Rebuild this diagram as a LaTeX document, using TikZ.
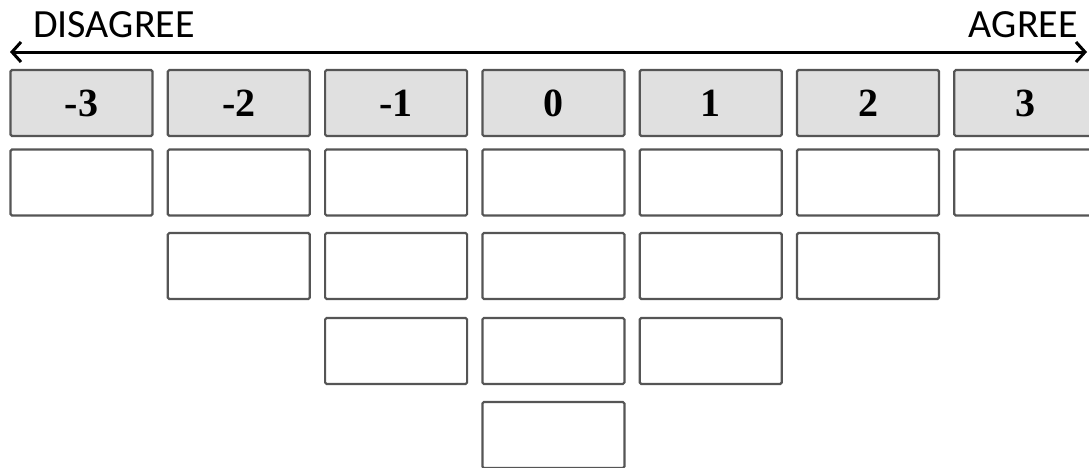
\documentclass[tikz,border=0pt]{standalone}
\usepackage{fontspec}
\newfontfamily\labelfont{Carlito}
\newfontfamily\digitfont{Liberation Serif}
\usetikzlibrary{arrows.meta}
\definecolor{boxline}{HTML}{555555}
\definecolor{headfill}{HTML}{E0E0E0}
\tikzset{
  cell/.style={draw=boxline, line width=2.2pt, rounded corners=1.5pt, minimum width=142pt, minimum height=66pt, inner sep=0pt, fill=white},
  headcell/.style={cell, fill=headfill, font=\digitfont\bfseries\fontsize{40}{40}\selectfont},
  endlabel/.style={font=\labelfont\fontsize{40}{40}\selectfont, inner sep=0pt},
  scale arrow/.style={line width=3pt, {Straight Barb[length=9pt,width=20pt,line width=3pt]}-{Straight Barb[length=9pt,width=20pt,line width=3pt]}}
}
\begin{document}
\begin{tikzpicture}[x=1pt,y=-1pt]
\useasboundingbox (0,0) rectangle (1089,467);
\clip (0,0) rectangle (1089,467);
% end labels and arrow
\node[endlabel, anchor=base west] (dis) at (33,37) {DISAGREE};
\node[endlabel, anchor=base east] (agr) at (1078,37) {AGREE};
\coordinate (arrL) at (10,52);
\coordinate (arrR) at (1087,52);
\draw[scale arrow] (arrL) -- (arrR);
% header row
\foreach \i/\lab in {0/-3,1/-2,2/-1,3/0,4/1,5/2,6/3}{
  \node[headcell] (h\i) at ({81.5+157.3*\i},103) {\raisebox{-4pt}{\lab}};
}
% row 1
\foreach \i in {0,...,6}{
  \node[cell] (ra\i) at ({81.5+157.3*\i},182.5) {};
}
% row 2
\foreach \i in {1,...,5}{
  \node[cell] (rb\i) at ({81.5+157.3*\i},266) {};
}
% row 3
\foreach \i in {2,...,4}{
  \node[cell] (rc\i) at ({81.5+157.3*\i},351) {};
}
% row 4
\node[cell] (rd3) at ({81.5+157.3*3},435) {};
\end{tikzpicture}
\end{document}
